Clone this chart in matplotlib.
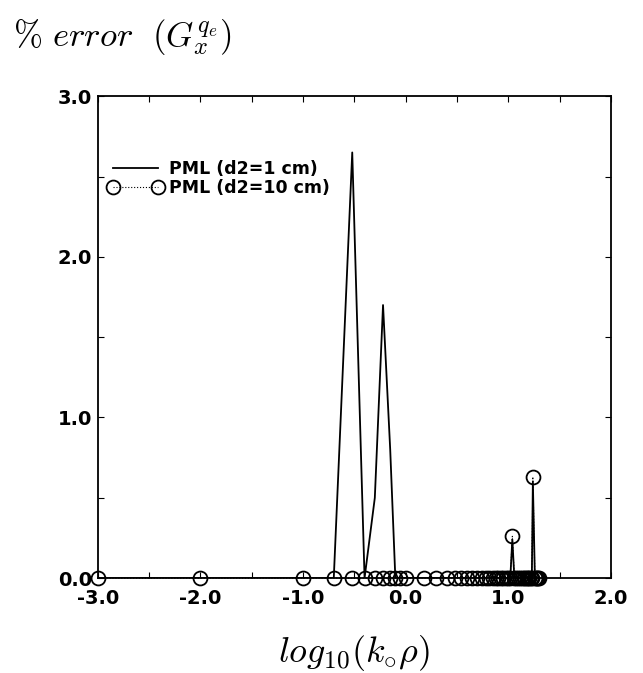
import numpy as np
import matplotlib
matplotlib.use("Agg")
import matplotlib.pyplot as plt
from matplotlib.ticker import MultipleLocator

# log10(k0*rho) sample positions (k0*rho = 0.001, 0.01, 0.1, 0.2..1.0, 1.5..20)
x_log = [-3.00, -2.00, -1.00, -0.70, -0.52, -0.40, -0.30, -0.22, -0.15, -0.10,
         -0.05, 0.00, 0.18, 0.30, 0.40, 0.48, 0.54, 0.60, 0.65, 0.70,
         0.74, 0.78, 0.81, 0.85, 0.88, 0.90, 0.93, 0.95, 0.98, 1.00,
         1.02, 1.04, 1.06, 1.08, 1.10, 1.11, 1.13, 1.15, 1.16, 1.18,
         1.19, 1.20, 1.22, 1.23, 1.24, 1.26, 1.27, 1.28, 1.29, 1.30]

# % error, PML d2 = 1 cm
err_d2_1 = [0.0, 0.0, 0.0, 0.0, 2.65, 0.0, 0.50, 1.70, 0.80, 0.0,
            0.0, 0.0, 0.0, 0.0, 0.0, 0.0, 0.0, 0.0, 0.0, 0.0,
            0.0, 0.0, 0.0, 0.0, 0.0, 0.0, 0.0, 0.0, 0.0, 0.0,
            0.0, 0.24, 0.0, 0.0, 0.0, 0.0, 0.0, 0.0, 0.0, 0.0,
            0.0, 0.0, 0.0, 0.0, 0.60, 0.0, 0.0, 0.0, 0.0, 0.0]

# % error, PML d2 = 10 cm
err_d2_10 = [0.0, 0.0, 0.0, 0.0, 0.0, 0.0, 0.0, 0.0, 0.0, 0.0,
             0.0, 0.0, 0.0, 0.0, 0.0, 0.0, 0.0, 0.0, 0.0, 0.0,
             0.0, 0.0, 0.0, 0.0, 0.0, 0.0, 0.0, 0.0, 0.0, 0.0,
             0.0, 0.26, 0.0, 0.0, 0.0, 0.0, 0.0, 0.0, 0.0, 0.0,
             0.0, 0.0, 0.0, 0.0, 0.63, 0.0, 0.0, 0.0, 0.0, 0.0]

x_ticks = [-3.0, -2.0, -1.0, 0.0, 1.0, 2.0]
y_ticks = [0.0, 1.0, 2.0, 3.0]

plt.rcParams["mathtext.fontset"] = "cm"
plt.rcParams["font.family"] = ["DejaVu Sans"]

fig = plt.figure(figsize=(6.43, 6.73), dpi=100)
ax = fig.add_axes([0.152, 0.141, 0.798, 0.716])

ax.plot(x_log, err_d2_1, color="black", lw=1.3, label="PML (d2=1 cm)", zorder=3)
ax.plot(x_log, err_d2_10, color="black", lw=0.8, ls=":", marker="o",
        ms=10, mfc="none", mec="black", mew=1.3,
        label="PML (d2=10 cm)", zorder=4, clip_on=False)

ax.set_xlim(-3.0, 2.0)
ax.set_ylim(0.0, 3.0)
ax.set_xticks(x_ticks)
ax.set_yticks(y_ticks)
ax.set_xticklabels([f"{v:.1f}" for v in x_ticks], fontsize=14, fontweight="heavy")
ax.set_yticklabels([f"{v:.1f}" for v in y_ticks], fontsize=14, fontweight="heavy")
ax.xaxis.set_minor_locator(MultipleLocator(0.5))
ax.yaxis.set_minor_locator(MultipleLocator(0.5))
ax.tick_params(which="both", direction="in", top=True, right=True,
               length=4, width=0.8, pad=4)
ax.tick_params(axis="x", pad=8)
for s in ax.spines.values():
    s.set_linewidth(1.3)

ax.legend(loc="upper left", bbox_to_anchor=(0.0, 0.89), frameon=False,
          prop={"weight": "bold", "size": 12.5}, handlelength=3.2,
          numpoints=2, handletextpad=0.3, labelspacing=0.1, borderaxespad=0.2)

fig.text(0.02, 0.945, r"$\%\ error\ \ (G_x^{q_e})$", fontsize=25,
         ha="left", va="center")
fig.text(0.55, 0.03, r"$log_{10}(k_{\circ}\rho)$", fontsize=26,
         ha="center", va="center")

fig.savefig("out.png", dpi=100)
